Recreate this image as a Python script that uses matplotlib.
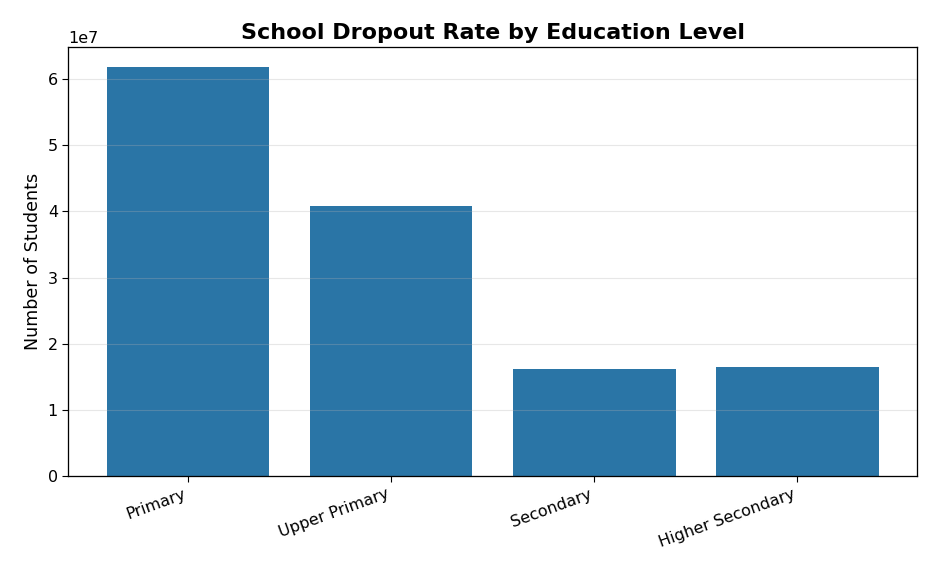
import matplotlib
matplotlib.use("Agg")
import matplotlib.pyplot as plt

# Dropout counts by level
levels = ["Primary", "Upper Primary", "Secondary", "Higher Secondary"]
students = [6.18e7, 4.09e7, 1.62e7, 1.64e7]

plt.rcParams["font.size"] = 11.5
plt.rcParams["axes.linewidth"] = 0.92
plt.rcParams["xtick.major.size"] = 4.0
plt.rcParams["ytick.major.size"] = 4.0

fig, ax = plt.subplots(figsize=(9.36, 5.72), dpi=100)
ax.bar(levels, students, color="#2a75a6", width=0.8)
ax.set_title("School Dropout Rate by Education Level", fontsize=16, fontweight="bold")
ax.set_ylabel("Number of Students", fontsize=12.6)
ax.yaxis.grid(True, alpha=0.3)
plt.xticks(rotation=20, ha="right")
plt.subplots_adjust(left=0.073, right=0.98, top=0.918, bottom=0.168)
plt.savefig("out.png")
